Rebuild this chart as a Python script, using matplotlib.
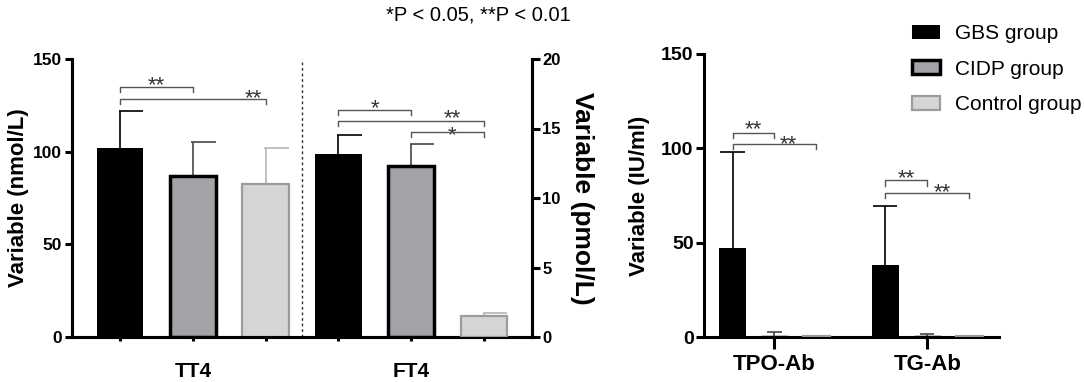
import matplotlib
matplotlib.use("Agg")
import matplotlib.pyplot as plt
from matplotlib.patches import Patch
import numpy as np

plt.rcParams['font.family'] = ['Liberation Sans', 'DejaVu Sans']

groups = ['GBS group', 'CIDP group', 'Control group']
fills = ['#000000', '#a3a3a7', '#d5d5d5']
edges = ['#000000', '#000000', '#9c9c9c']
edge_w = [0.0, 2.5, 1.6]
err_cols = ['#000000', '#474747', '#b5b5b5']

# TT4 (nmol/L, left axis)
tt4_mean = [102.2, 86.8, 82.3]
tt4_err = [19.8, 18.6, 19.7]
# FT4 (pmol/L, right axis)
ft4_mean = [13.17, 12.3, 1.5]
ft4_err = [1.33, 1.57, 0.22]
# Antibodies (IU/ml)
ab_labels = ['TPO-Ab', 'TG-Ab']
tpo_mean = [47.3, 0.2, 0.4]
tpo_err = [50.5, 2.6, 0.0]
tg_mean = [38.4, 0.2, 0.5]
tg_err = [30.9, 1.2, 0.0]

# significance brackets: (x1, x2, y, text, text_x, text_dy_points)
tt4_sig = [(0, 1, 135.1, '**', 0.5, 0), (0, 2, 128.4, '**', 1.83, -1)]
ft4_sig = [(3, 4, 16.33, '*', 3.5, 0), (3, 5, 15.56, '**', 4.56, 0.5),
           (4, 5, 14.77, '*', 4.56, -4)]
ab_sig = [(0, 1, 108.0, '**', 0.5, 1.5), (0, 2, 102.2, '**', 1.32, -1),
          (3.64, 4.64, 83.0, '**', 4.14, 0), (3.64, 5.64, 76.5, '**', 4.99, -1)]

W, H = 1084, 382
fig = plt.figure(figsize=(W / 100, H / 100), dpi=100)

ax1 = fig.add_axes([72 / W, 1 - 337 / H, 460 / W, 278 / H])
ax2 = ax1.twinx()
ax3 = fig.add_axes([704 / W, 1 - 337 / H, 295 / W, 283 / H])

bw = 0.64
lw_sp = 2.2

def bars(ax, xs, means, errs, i, capside='right', capw=0.32):
    ax.bar(xs, means, width=bw, color=fills[i], edgecolor=edges[i],
           linewidth=edge_w[i], zorder=3)
    xs = np.asarray(xs, float)
    m = np.asarray(means, float)
    e = np.asarray(errs, float)
    ax.vlines(xs, m, m + e, color=err_cols[i], lw=1.2, zorder=2.5)
    if capside == 'right':
        ax.hlines(m + e, xs - 0.02, xs + capw, color=err_cols[i], lw=1.2, zorder=2.5)
    else:
        ax.hlines(m + e, xs - capw, xs + capw, color=err_cols[i], lw=1.2, zorder=2.5)

def bracket(ax, x1, x2, y, txt, tx, dy, leg, fs=16):
    ax.plot([x1, x1, x2, x2], [y - leg, y, y, y - leg], color='#555555', lw=1.0,
            zorder=4, clip_on=False)
    ax.annotate(txt, (tx, y), xytext=(0, -3 + dy), textcoords='offset points',
                ha='center', va='baseline', fontsize=fs, color='#333333')

# Left panel
for i in range(3):
    bars(ax1, [i], [tt4_mean[i]], [tt4_err[i]], i)
    bars(ax2, [3 + i], [ft4_mean[i]], [ft4_err[i]], i)

ax1.set_xlim(-0.66, 5.66)
ax1.set_ylim(0, 150)
ax2.set_ylim(0, 20)
ax1.set_yticks([0, 50, 100, 150])
ax2.set_yticks([0, 5, 10, 15, 20])
ax1.set_xticks(range(6))
ax1.set_xticklabels(['', 'TT4', '', '', 'FT4', ''], fontsize=15, fontweight='bold')
ax1.axvline(2.5, color='#333333', lw=1.0, ls=(0, (2, 2)), zorder=1)

for a in (ax1, ax2):
    for s in a.spines.values():
        s.set_linewidth(lw_sp)
    a.spines['top'].set_visible(False)
ax1.tick_params(axis='x', length=3, width=lw_sp, pad=15)
ax1.tick_params(axis='y', length=5, width=lw_sp, labelsize=12.5, pad=2)
ax2.tick_params(axis='y', length=5.5, width=lw_sp, labelsize=12, pad=2)
for lab in ax1.get_yticklabels() + ax2.get_yticklabels():
    lab.set_fontweight('bold')
ax1.set_ylabel('Variable (nmol/L)', fontsize=16, fontweight='bold', labelpad=3)
ax2.set_ylabel('Variable (pmol/L)', fontsize=19, fontweight='bold', rotation=270,
               labelpad=24)

for x1, x2, y, t, tx, dy in tt4_sig:
    bracket(ax1, x1, x2, y, t, tx, dy, 2.7)
for x1, x2, y, t, tx, dy in ft4_sig:
    bracket(ax2, x1, x2, y, t, tx, dy, 0.36)

# Right panel
pos0 = np.array([0.0, 3.64])
for i in range(3):
    bars(ax3, pos0 + i, [tpo_mean[i], tg_mean[i]], [tpo_err[i], tg_err[i]], i,
         capside='both', capw=(0.29 if i == 0 else 0.17))
ax3.set_xlim(-0.68, 6.35)
ax3.set_ylim(0, 150)
ax3.set_yticks([0, 50, 100, 150])
ax3.set_xticks(pos0 + 1)
ax3.set_xticklabels(ab_labels, fontsize=16, fontweight='bold')
for s in ax3.spines.values():
    s.set_linewidth(lw_sp)
ax3.spines['top'].set_visible(False)
ax3.spines['right'].set_visible(False)
ax3.tick_params(axis='x', length=8.6, width=lw_sp, pad=4)
ax3.tick_params(axis='y', length=5.5, width=lw_sp, labelsize=14, pad=2)
for lab in ax3.get_yticklabels():
    lab.set_fontweight('bold')
ax3.set_ylabel('Variable (IU/ml)', fontsize=16, fontweight='bold', labelpad=8)
for x1, x2, y, t, tx, dy in ab_sig:
    bracket(ax3, x1, x2, y, t, tx, dy, 2.7)

# Legend
handles = [Patch(facecolor=fills[i], edgecolor=edges[i], linewidth=max(edge_w[i], 0.01))
           for i in range(3)]
fig.legend(handles, groups, loc='upper left', bbox_to_anchor=(912 / W, 1 - 24 / H),
           frameon=False, fontsize=15, handlelength=1.35, handleheight=0.65,
           handletextpad=0.7, labelspacing=0.8, borderpad=0, borderaxespad=0)

fig.text(478 / W, 1 - 15 / H, '*P < 0.05, **P < 0.01', ha='center', va='center',
         fontsize=14.5)

fig.savefig('out.png', dpi=100)
